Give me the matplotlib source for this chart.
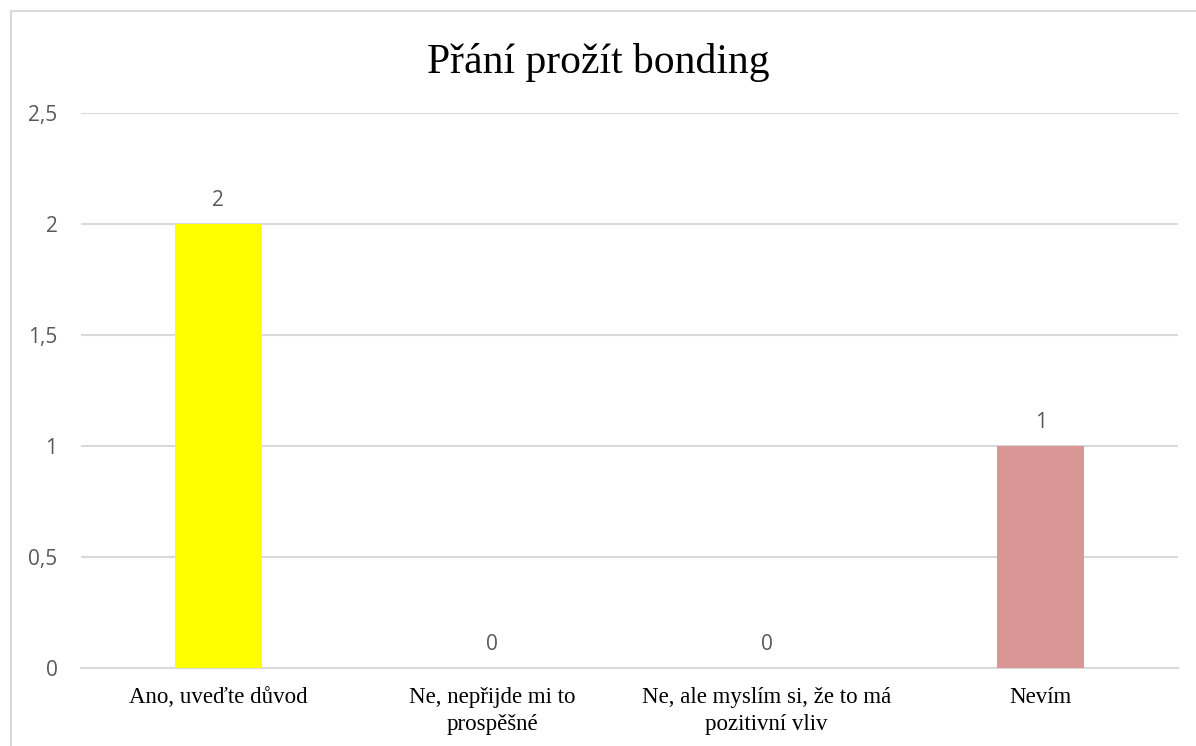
import matplotlib.pyplot as plt
import matplotlib.patches as patches
from matplotlib.ticker import FuncFormatter

# data
categories = ["Ano, uveďte důvod", "Ne, nepřijde mi to\nprospěšné",
              "Ne, ale myslím si, že to má\npozitivní vliv", "Nevím"]
values = [2, 0, 0, 1]
bar_colors = ["#FFFF00", "#4472C4", "#ED7D31", "#D99694"]
y_ticks = [0, 0.5, 1, 1.5, 2, 2.5]

serif = ["Liberation Serif", "DejaVu Serif"]
sans = ["Open Sans", "DejaVu Sans"]
grid_color = "#D9D9D9"
label_color = "#595959"

fig = plt.figure(figsize=(11.96, 7.46), dpi=100)
ax = fig.add_axes([81 / 1196, 1 - 668 / 746, (1178 - 81) / 1196, (668 - 113) / 746])

x = list(range(len(categories)))
ax.bar(x, values, width=0.317, color=bar_colors, zorder=3)

# popisky hodnot
for xi, v in zip(x, values):
    ax.annotate(str(v), (xi, v), xytext=(0, 17), textcoords="offset points",
                ha="center", va="center", fontsize=15, color=label_color, family=sans)

ax.set_xlim(-0.5, len(categories) - 0.5)
ax.set_ylim(0, 2.5)
ax.set_yticks(y_ticks)
ax.yaxis.set_major_formatter(FuncFormatter(lambda v, p: ("%g" % v).replace(".", ",")))
ax.set_xticks(x)
ax.set_xticklabels(categories, family=serif, fontsize=16.5, color="black", linespacing=1.34)
for t in ax.get_yticklabels():
    t.set_family(sans)
    t.set_fontsize(15)
    t.set_color(label_color)

ax.tick_params(axis="both", length=0)
ax.tick_params(axis="y", pad=17)
ax.tick_params(axis="x", pad=14)
ax.grid(axis="y", color=grid_color, linewidth=1.5, zorder=0)
for s in ["top", "right", "left"]:
    ax.spines[s].set_visible(False)
ax.spines["bottom"].set_color(grid_color)
ax.spines["bottom"].set_linewidth(1.5)
ax.spines["bottom"].set_zorder(2)

fig.text(0.5, 1 - 62 / 746, "Přání prožít bonding", ha="center", va="center",
         fontsize=30, family=serif, color="black")

# okraj grafu
fig.patches.append(patches.Rectangle((11 / 1196, -0.1), 1.2, 1 - 11 / 746 + 0.1,
                                     transform=fig.transFigure, fill=False,
                                     edgecolor=grid_color, linewidth=1.5))

fig.savefig("out.png", dpi=100)
